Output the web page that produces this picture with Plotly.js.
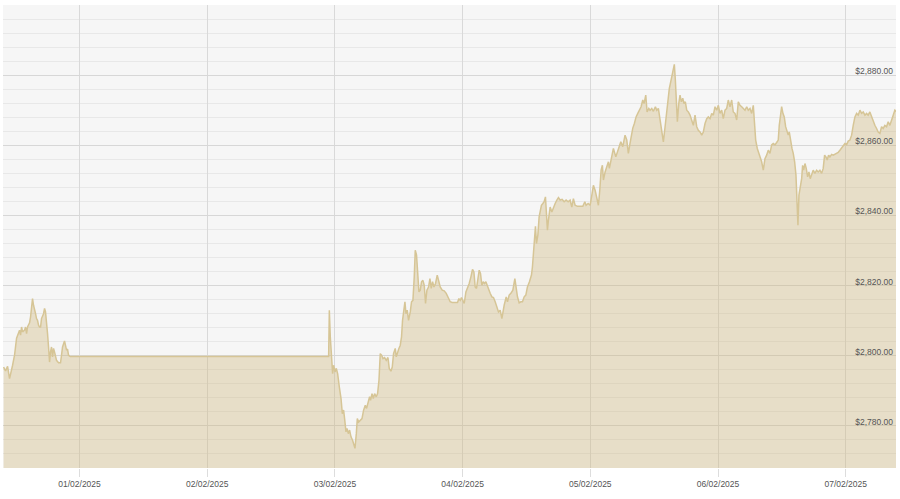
<!DOCTYPE html>
<html>
<head>
<meta charset="utf-8">
<script src="https://cdn.plot.ly/plotly-3.0.1.min.js"></script>
<style>
  html, body { margin: 0; padding: 0; background: #ffffff; }
  #chart { width: 900px; height: 499px; }
</style>
</head>
<body>
<div id="chart"></div>
<script>
// Hours elapsed since 2025-01-31 00:00 for each price reading
const hours = [
  9.73, 10.10, 10.48, 10.85, 11.42, 11.79, 12.17, 12.54, 12.73, 12.92, 13.11, 13.30, 13.67, 13.86, 14.05, 14.23,
  14.61, 14.80, 14.99, 15.17, 15.36, 15.55, 15.74, 15.92, 16.11, 16.30, 16.49, 16.68, 16.86, 17.24, 17.43, 17.61,
  17.80, 17.99, 18.18, 18.37, 18.55, 18.74, 18.93, 19.12, 19.30, 19.68, 20.06, 20.43, 20.62, 20.81, 21.18, 21.37,
  21.56, 21.75, 21.93, 22.12, 22.30, 70.82,
  70.95, 71.13, 71.32, 71.57, 71.76, 72.02, 72.26, 72.51, 72.83, 73.15, 73.39, 73.63, 73.82, 74.08, 74.27, 74.52,
  74.76, 75.02, 75.32, 75.59, 75.77, 76.02, 76.21, 76.45, 76.77, 77.09, 77.39, 77.71, 77.95, 78.22, 78.52, 78.70,
  78.97, 79.21, 79.46, 79.77, 80.02, 80.28, 80.52, 80.77, 81.03, 81.33, 81.65, 81.97, 82.21, 82.53, 82.78, 83.02,
  83.34, 83.53, 83.77, 84.03, 84.28, 84.52, 84.71, 84.97, 85.16, 85.35, 85.59, 85.84, 86.16, 86.40, 86.66, 86.91,
  87.10, 87.34, 87.53, 87.79, 88.04, 88.28, 88.54, 88.79, 89.03, 89.29, 89.59, 89.86, 90.10, 90.35, 90.61, 90.91,
  91.23, 91.47, 91.79, 92.17, 92.54, 92.92, 93.29, 93.67, 94.04, 94.55, 95.04, 95.30, 95.55, 95.79, 96.05, 96.30,
  96.62, 96.92, 97.24, 97.56, 97.86, 98.12, 98.36, 98.61, 98.87, 99.12, 99.36, 99.62, 99.87, 100.11, 100.37, 100.62,
  100.86, 101.18, 101.50, 101.80, 102.12, 102.44, 102.74,
  103.06, 103.38, 103.81, 104.19, 104.43, 104.75, 105.07, 105.44, 105.82, 106.06, 106.31, 106.63, 106.95, 107.25,
  107.57, 107.88, 108.18, 108.56, 108.94, 109.12, 109.31, 109.50, 109.69, 109.88, 110.14, 110.38, 110.57, 110.81,
  111.08, 111.32, 111.57, 111.75, 111.94, 112.13, 112.45, 112.77, 113.07, 113.39, 113.71, 114.01, 114.33, 114.70,
  115.08, 115.45, 115.83, 116.20, 116.52, 116.82, 117.14, 117.58, 118.08, 118.59, 118.97, 119.21, 119.59, 119.96,
  120.34, 120.58, 120.90, 121.22, 121.52, 121.78, 122.03, 122.27, 122.46, 122.78, 123.10, 123.40, 123.58, 123.90,
  124.34, 124.79, 125.28, 125.73, 126.10, 126.53, 126.85, 127.15, 127.47, 127.98, 128.28, 128.60, 128.92, 129.22,
  129.54, 129.86, 130.10, 130.42, 130.67, 130.99, 131.23, 131.55, 131.85, 132.23, 132.49, 132.79, 133.11, 133.43,
  133.73, 134.05, 134.37, 134.61, 134.85, 135.11, 135.30, 135.55, 135.79, 135.98, 136.17, 136.36, 136.62, 136.86,
  137.11, 137.37, 137.61, 137.86, 138.12, 138.42, 138.74, 139.06, 139.36, 139.68, 140.00, 140.30, 140.62, 140.94,
  141.24, 141.56, 141.88, 142.18, 142.50, 142.82, 143.12, 143.44, 143.76, 144.06, 144.37, 144.69, 144.99, 145.31,
  145.63, 145.93, 146.25, 146.57, 146.87, 147.19, 147.51, 147.81, 148.13, 148.45, 148.75, 149.07, 149.39, 149.69,
  150.01, 150.33, 150.63, 150.81, 151.08, 151.38, 151.70,
  151.89, 152.20, 152.51, 152.82, 153.14, 153.44, 153.76, 154.08, 154.38, 154.70, 155.02, 155.32, 155.51, 155.77,
  155.96, 156.20, 156.45, 156.71, 156.96, 157.20, 157.39, 157.65, 157.90, 158.14, 158.40, 158.65, 158.83, 159.02,
  159.21, 159.45, 159.72, 159.90, 160.09, 160.34, 160.58, 160.84, 161.09, 161.33, 161.59, 161.89, 162.21, 162.53,
  162.83, 163.15, 163.47, 163.77, 164.03, 164.28, 164.52, 164.78, 165.03, 165.35, 165.65, 165.97, 166.29, 166.59,
  166.91, 167.23, 167.53, 167.85, 168.17, 168.47, 168.79, 169.11, 169.41, 169.73, 170.05, 170.35, 170.67, 170.99,
  171.29, 171.61, 171.92, 172.22, 172.54, 172.86, 173.16, 173.48, 173.80, 174.10, 174.42, 174.74, 175.04, 175.36,
  175.68, 175.98, 176.30, 176.62, 176.92, 177.24, 177.56
];

// Gold price (USD/oz)
const prices = [
  2796.8, 2795.7, 2797.0, 2793.5, 2797.3, 2800.2, 2805.0, 2806.8, 2807.3, 2805.9, 2808.2, 2806.8, 2807.3, 2808.2, 2806.3, 2808.2,
  2809.4, 2811.1, 2813.5, 2816.3, 2814.4, 2812.5, 2812.0, 2810.6, 2810.1, 2808.7, 2808.2, 2808.2, 2810.6, 2812.0, 2813.5, 2812.5,
  2810.1, 2806.3, 2802.5, 2798.2, 2801.1, 2802.5, 2799.7, 2802.1, 2801.1, 2798.7, 2798.0, 2798.0, 2800.2, 2802.5, 2804.2, 2803.0,
  2801.6, 2801.9, 2800.2, 2799.9, 2799.8, 2799.8,
  2813.0, 2805.4, 2800.6, 2794.9, 2797.3, 2795.4, 2796.4, 2794.9, 2791.1, 2787.8, 2783.5, 2784.5, 2782.1, 2778.3, 2779.3, 2777.8,
  2778.8, 2776.9, 2775.9, 2774.5, 2773.6, 2777.8, 2782.1, 2781.1, 2781.6, 2782.1, 2784.5, 2785.9, 2785.0, 2786.4, 2788.3, 2787.3,
  2789.2, 2787.8, 2789.2, 2788.3, 2789.2, 2793.0, 2800.6, 2800.2, 2799.2, 2799.5, 2798.7, 2799.5, 2796.4, 2795.6, 2796.8, 2800.6,
  2802.1, 2799.7, 2801.1, 2802.1, 2803.0, 2805.4, 2810.1, 2812.5, 2815.4, 2812.0, 2813.0, 2810.1, 2812.5, 2815.4, 2815.8, 2822.5,
  2830.1, 2828.7, 2824.4, 2818.2, 2818.7, 2821.1, 2821.5, 2820.1, 2814.9, 2818.7, 2819.6, 2822.0, 2819.2, 2821.1, 2819.6, 2820.6,
  2823.0, 2821.1, 2819.6, 2818.7, 2818.5, 2817.8, 2816.8, 2815.4, 2815.2, 2815.2, 2815.2, 2816.3, 2815.8, 2816.6, 2815.4, 2814.9,
  2818.2, 2819.2, 2820.6, 2822.5, 2824.6, 2823.9, 2819.6, 2819.2, 2822.5, 2824.4, 2823.5, 2820.1, 2821.1, 2820.6, 2821.1, 2820.1,
  2818.7, 2817.8, 2816.8, 2816.6, 2815.4, 2813.5, 2812.5,
  2813.0, 2810.6, 2814.4, 2816.8, 2815.4, 2817.3, 2817.8, 2818.7, 2822.0, 2819.6, 2816.8, 2815.1, 2815.4, 2815.4,
  2816.8, 2817.3, 2819.6, 2821.1, 2823.0, 2825.3, 2829.2, 2835.8, 2836.9, 2832.0, 2834.4, 2839.6, 2841.0, 2842.9,
  2843.4, 2843.9, 2845.3, 2839.6, 2835.8, 2838.7, 2842.4, 2841.0, 2842.4, 2843.4, 2844.4, 2845.1, 2844.4, 2844.6,
  2843.9, 2844.4, 2843.9, 2844.4, 2842.4, 2844.8, 2842.9, 2842.6, 2842.6, 2842.6, 2843.9, 2842.9, 2843.4, 2842.9,
  2846.3, 2848.6, 2847.2, 2844.4, 2842.9, 2847.2, 2852.9, 2854.3, 2850.1, 2852.4, 2854.3, 2855.3, 2853.4, 2856.2,
  2859.1, 2856.7, 2859.1, 2861.0, 2859.6, 2862.9, 2861.5, 2857.7, 2860.6, 2864.9, 2866.2, 2868.1, 2869.1, 2870.0,
  2871.0, 2872.9, 2871.9, 2874.3, 2869.5, 2870.5, 2870.0, 2870.5, 2869.7, 2871.0, 2870.0, 2870.5, 2867.2, 2863.8,
  2861.0, 2865.3, 2870.0, 2872.9, 2876.2, 2878.1, 2879.6, 2881.5, 2883.1, 2878.7, 2872.9, 2866.7, 2871.9, 2874.3,
  2872.4, 2873.4, 2871.9, 2872.4, 2870.0, 2869.5, 2868.6, 2867.2, 2865.7, 2868.6, 2865.3, 2864.3, 2863.8, 2862.9,
  2863.8, 2866.2, 2867.6, 2868.1, 2867.6, 2869.1, 2868.6, 2871.0, 2870.0, 2871.4, 2869.1, 2870.0, 2867.6, 2870.0,
  2870.5, 2872.9, 2871.0, 2872.9, 2869.5, 2869.1, 2867.2, 2872.4, 2871.4, 2871.0, 2870.5, 2870.0, 2871.0, 2870.0,
  2870.5, 2869.1, 2871.4, 2866.7, 2861.5, 2859.1, 2857.7,
  2857.2, 2855.3, 2852.9, 2856.2, 2857.2, 2858.6, 2857.7, 2860.1, 2860.5, 2860.1, 2860.8, 2861.5, 2865.7, 2868.1,
  2871.0, 2869.1, 2868.1, 2865.3, 2864.3, 2862.9, 2863.8, 2861.0, 2859.1, 2857.7, 2855.3, 2851.5, 2845.8, 2837.2,
  2845.8, 2847.7, 2850.5, 2854.3, 2852.9, 2854.8, 2853.4, 2851.0, 2852.4, 2850.5, 2852.0, 2852.9, 2852.0, 2852.9,
  2852.4, 2852.9, 2852.0, 2853.4, 2857.2, 2856.7, 2855.8, 2857.2, 2856.7, 2857.4, 2857.2, 2857.4, 2857.7, 2858.0,
  2858.6, 2859.3, 2860.1, 2860.5, 2860.2, 2861.2, 2861.5, 2862.9, 2865.7, 2868.1, 2869.1, 2868.6, 2870.0, 2869.1,
  2869.5, 2868.6, 2869.1, 2868.6, 2869.5, 2868.1, 2867.2, 2865.7, 2864.8, 2863.8, 2863.4, 2865.3, 2864.8, 2865.7,
  2865.3, 2866.7, 2865.7, 2867.2, 2869.1, 2870.0, 2869.5
];

const xTickDates = ['2025-02-01', '2025-02-02', '2025-02-03', '2025-02-04', '2025-02-05', '2025-02-06', '2025-02-07'];
const xTickLabels = ['01/02/2025', '02/02/2025', '03/02/2025', '04/02/2025', '05/02/2025', '06/02/2025', '07/02/2025'];
const yTickValues = [2780, 2800, 2820, 2840, 2860, 2880, 2900];
const yTickLabels = ['$2,780.00', '$2,800.00', '$2,820.00', '$2,840.00', '$2,860.00', '$2,880.00', ''];

const startMs = Date.UTC(2025, 0, 31, 0, 0, 0);
function toDate(h) {
  return new Date(startMs + h * 3600000).toISOString().replace('T', ' ').replace('Z', '');
}
const times = hours.map(toDate);
const xRange = [toDate(9.62), toDate(177.45)];

const trace = {
  x: times,
  y: prices,
  type: 'scatter',
  mode: 'lines',
  fill: 'tozeroy',
  fillcolor: 'rgba(205,180,120,0.36)',
  line: { color: 'rgb(214,197,150)', width: 1.5, shape: 'linear' },
  hoverinfo: 'skip'
};

const layout = {
  width: 900,
  height: 499,
  margin: { l: 3, r: 4, t: 5, b: 31, pad: 0 },
  paper_bgcolor: '#ffffff',
  plot_bgcolor: '#f6f6f6',
  showlegend: false,
  font: { family: 'Liberation Sans, Arial, sans-serif', size: 8.5, color: '#555555' },
  xaxis: {
    type: 'date',
    range: xRange,
    tickvals: xTickDates,
    ticktext: xTickLabels,
    showgrid: true,
    gridcolor: '#d9d9d9',
    gridwidth: 1,
    ticks: 'outside',
    ticklen: 8,
    tickcolor: '#dddddd',
    tickwidth: 1,
    showline: false,
    zeroline: false,
    tickfont: { size: 8.5, color: '#555555' }
  },
  yaxis: {
    range: [2768, 2900],
    side: 'right',
    tickvals: yTickValues,
    ticktext: yTickLabels,
    ticklabelposition: 'inside',
    ticks: '',
    showgrid: true,
    gridcolor: '#d7d7d7',
    gridwidth: 1,
    zeroline: false,
    showline: false,
    ticklabelshift: -4,
    ticklabelstandoff: 0,
    tickfont: { size: 8.5, color: '#555555' },
    minor: { tick0: 2768, dtick: 4, showgrid: true, gridcolor: '#e8e8e8', gridwidth: 1 }
  }
};

Plotly.newPlot('chart', [trace], layout, { displayModeBar: false, staticPlot: true });
</script>
</body>
</html>
